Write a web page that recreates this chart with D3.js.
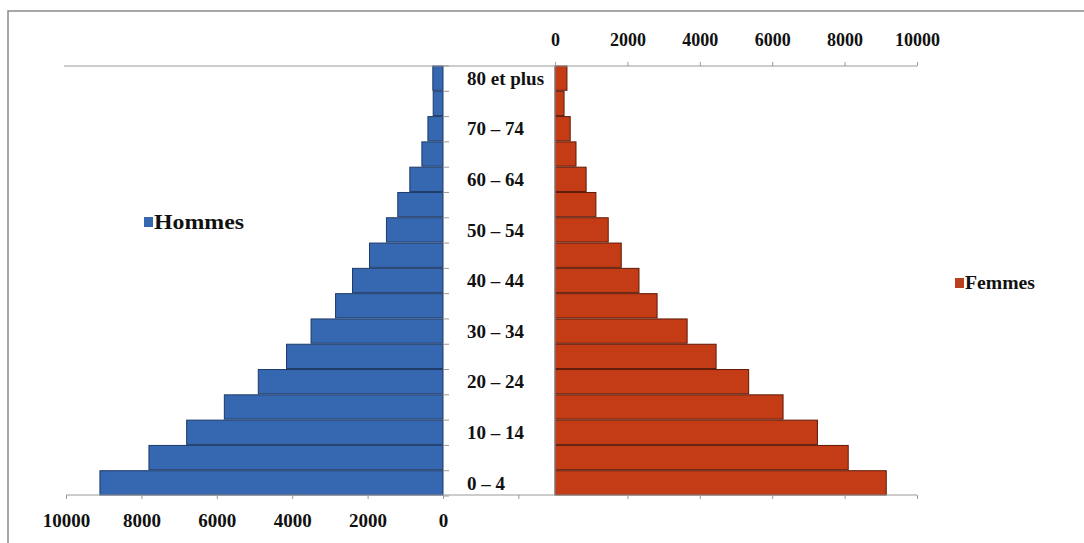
<!DOCTYPE html>
<html>
<head>
<meta charset="utf-8">
<script src="https://cdn.jsdelivr.net/npm/d3@7"></script>
<style>
  body { margin: 0; background: #fff; }
  svg text { font-family: "Liberation Serif", "Times New Roman", serif; font-weight: bold; fill: #111; }
</style>
</head>
<body>
<script>
// age groups, bottom (youngest) to top
const ageGroups = ["0 – 4", "5 – 9", "10 – 14", "15 – 19", "20 – 24", "25 – 29", "30 – 34",
  "35 – 39", "40 – 44", "45 – 49", "50 – 54", "55 – 59", "60 – 64", "65 – 69",
  "70 – 74", "75 – 79", "80 et plus"];
const hommes = [9100, 7800, 6800, 5800, 4900, 4150, 3500, 2850, 2400, 1950, 1500, 1200, 880, 560, 400, 260, 270];
const femmes = [9150, 8100, 7250, 6300, 5350, 4450, 3650, 2820, 2320, 1830, 1470, 1130, 860, 580, 420, 250, 330];
const valueTicks = [0, 2000, 4000, 6000, 8000, 10000];

const width = 1084, height = 543;

let svg = d3.select("body").append("svg")
    .attr("width", width)
    .attr("height", height);

// outer frame (top + left edge of the scanned figure)
svg.append("path")
    .attr("d", "M8," + height + "V11H" + width)
    .attr("fill", "none")
    .attr("stroke", "#8a8a8a")
    .attr("stroke-width", 1.5);

let y = d3.scaleBand()
    .domain(ageGroups.slice().reverse())
    .range([66, 495])
    .paddingInner(0.04);

let xL = d3.scaleLinear()
    .domain([0, 10000])
    .range([443, 66]);

let xR = d3.scaleLinear()
    .domain([0, 10000])
    .range([555, 917]);

// Hommes bars
svg.append("g").selectAll("rect")
    .data(hommes)
    .join("rect")
    .attr("x", d => xL(d))
    .attr("y", (d, i) => y(ageGroups[i]))
    .attr("width", d => xL(0) - xL(d))
    .attr("height", y.bandwidth())
    .attr("fill", "#3568b0")
    .attr("stroke", "#1d3a68")
    .attr("stroke-width", 1);

// Femmes bars
svg.append("g").selectAll("rect")
    .data(femmes)
    .join("rect")
    .attr("x", xR(0))
    .attr("y", (d, i) => y(ageGroups[i]))
    .attr("width", d => xR(d) - xR(0))
    .attr("height", y.bandwidth())
    .attr("fill", "#c43c16")
    .attr("stroke", "#5e1a08")
    .attr("stroke-width", 1);

// top and bottom axis lines across both panels
let yTop = y.range()[0], yBot = y.range()[1];
svg.append("line")
    .attr("x1", xL(10000) - 2).attr("x2", xR(10000))
    .attr("y1", yTop).attr("y2", yTop)
    .attr("stroke", "#9a9a9a").attr("stroke-width", 1.2);
svg.append("line")
    .attr("x1", xL(10000)).attr("x2", xR(10000))
    .attr("y1", yBot).attr("y2", yBot)
    .attr("stroke", "#9a9a9a").attr("stroke-width", 1.2);

// left value axis (bottom)
let xAxisL = d3.axisBottom(xL)
    .tickValues(valueTicks.concat([-2000]))
    .tickFormat(d => d < 0 ? "" : d3.format("d")(d))
    .tickSize(4)
    .tickPadding(15);
let gL = svg.append("g")
    .attr("transform", "translate(0," + yBot + ")")
    .call(xAxisL);
gL.select(".domain").remove();
gL.selectAll("line").attr("stroke", "#9a9a9a");
gL.selectAll("text").style("font-size", "19px").attr("fill", "#111");

// right value axis (top)
let xAxisR = d3.axisTop(xR)
    .tickValues(valueTicks)
    .tickFormat(d3.format("d"))
    .tickSize(4)
    .tickPadding(16);
let gR = svg.append("g")
    .attr("transform", "translate(0," + yTop + ")")
    .call(xAxisR);
gR.select(".domain").remove();
gR.selectAll("line").attr("stroke", "#9a9a9a");
gR.selectAll("text").style("font-size", "18px").attr("fill", "#111");

// right panel bottom ticks (unlabelled)
let gR2 = svg.append("g")
    .attr("transform", "translate(0," + yBot + ")")
    .call(d3.axisBottom(xR).tickValues(valueTicks.slice(1)).tickSize(4).tickFormat(""));
gR2.select(".domain").remove();
gR2.selectAll("line").attr("stroke", "#9a9a9a");

// right panel category line
svg.append("line")
    .attr("x1", xR(0)).attr("x2", xR(0))
    .attr("y1", yTop).attr("y2", yBot)
    .attr("stroke", "#9a9a9a").attr("stroke-width", 1);

// category ticks on the left panel's axis
let boundaries = d3.range(ageGroups.length + 1).map(i => yTop + i * y.step());
svg.append("g").selectAll("line")
    .data(boundaries)
    .join("line")
    .attr("x1", xL(0)).attr("x2", xL(0) + 6)
    .attr("y1", d => d).attr("y2", d => d)
    .attr("stroke", "#9a9a9a");

// category labels (every other group)
svg.append("g").selectAll("text")
    .data(ageGroups.filter((d, i) => i % 2 === 0))
    .join("text")
    .attr("x", xL(0) + 24)
    .attr("y", d => y(d) + y.bandwidth() / 2)
    .attr("dy", "0.35em")
    .style("font-size", "19px")
    .text(d => d);

// legends
let legends = [
  { name: "Hommes", color: "#3568b0", x: 144, y: 222, size: 20, len: 90 },
  { name: "Femmes", color: "#b8401e", x: 955, y: 283, size: 18, len: 70 }
];
let lg = svg.append("g").selectAll("g")
    .data(legends)
    .join("g")
    .attr("transform", d => "translate(" + d.x + "," + d.y + ")");
lg.append("rect")
    .attr("x", 0).attr("y", -5)
    .attr("width", 9).attr("height", 10)
    .attr("fill", d => d.color);
lg.append("text")
    .attr("x", 10)
    .attr("dy", "0.35em")
    .attr("textLength", d => d.len)
    .attr("lengthAdjust", "spacingAndGlyphs")
    .style("font-size", d => d.size + "px")
    .text(d => d.name);
</script>
</body>
</html>
